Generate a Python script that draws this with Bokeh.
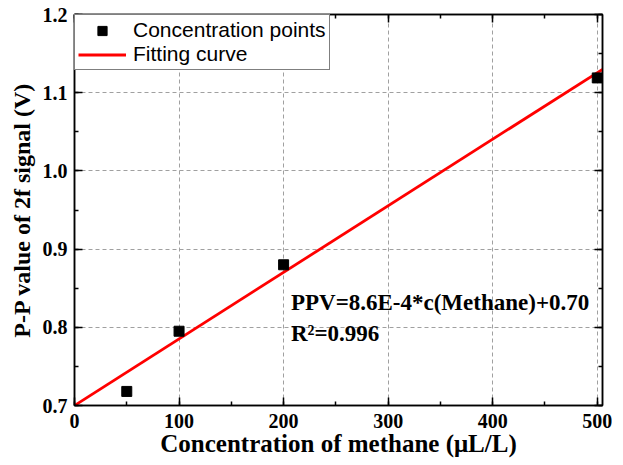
from bokeh.plotting import figure
from bokeh.models import (ColumnDataSource, LinearAxis, SingleIntervalTicker, NumeralTickFormatter,
                          Legend, LegendItem, Label, Range1d, CustomJSTickFormatter)
from bokeh.embed import file_html
from bokeh.resources import INLINE

# data
conc = [50, 100, 200, 500]
ppv = [0.718, 0.795, 0.880, 1.119]
fit_x = [0, 505]
fit_y = [0.700, 1.130]
eq_text = "PPV=8.6E-4*c(Methane)+0.70"
r2_text = "R\u00b2=0.996"
x_label = "Concentration of methane (\u03bcL/L)"
y_label = "P-P value of 2f signal (V)"
legend_labels = ["Concentration points", "Fitting curve"]

SERIF = "Liberation Serif"
SANS = "Liberation Sans"

p = figure(width=612, height=460, output_backend="svg", toolbar_location=None,
           x_range=Range1d(0, 505), y_range=Range1d(0.7, 1.2001),
           frame_width=528, frame_height=391,
           min_border_left=74, min_border_right=10, min_border_top=14, min_border_bottom=55,
           x_axis_location=None, y_axis_location=None)
p.outline_line_color = "black"
p.outline_line_width = 1.5
p.background_fill_color = "white"
p.border_fill_color = "white"

xt = SingleIntervalTicker(interval=100, num_minor_ticks=2)
yt = SingleIntervalTicker(interval=0.1, num_minor_ticks=2)


def style(ax, labels=True):
    ax.axis_line_color = "black"
    ax.axis_line_width = 1.5
    ax.major_tick_in = 8
    ax.major_tick_out = 0
    ax.minor_tick_in = 4
    ax.minor_tick_out = 0
    ax.major_tick_line_width = 1.5
    ax.minor_tick_line_width = 1.5
    if labels:
        ax.major_label_text_font = SERIF
        ax.major_label_text_font_style = "bold"
        ax.major_label_text_font_size = "20px"
        ax.major_label_text_color = "black"
        ax.axis_label_text_font = SERIF
        ax.axis_label_text_font_style = "bold"
        ax.axis_label_text_font_size = "24px"
        ax.axis_label_text_color = "black"
    else:
        ax.formatter = CustomJSTickFormatter(code="return '';")
        ax.major_label_standoff = 0
        ax.axis_label = None


xb = LinearAxis(ticker=xt, axis_label=x_label)
style(xb)
xb.major_label_standoff = 8
xb.axis_label_standoff = -1
xb.axis_label_text_font_size = "25px"
p.add_layout(xb, "below")

yl = LinearAxis(ticker=yt, axis_label=y_label, formatter=NumeralTickFormatter(format="0.0"))
style(yl)
yl.major_label_standoff = 7
yl.axis_label_standoff = 5
p.add_layout(yl, "left")

xa = LinearAxis(ticker=xt)
style(xa, labels=False)
p.add_layout(xa, "above")

yr = LinearAxis(ticker=yt)
style(yr, labels=False)
p.add_layout(yr, "right")

p.xgrid.ticker = xt
p.ygrid.ticker = yt
for g in (p.xgrid, p.ygrid):
    g.grid_line_color = "#a0a0a0"
    g.grid_line_dash = "4 3"
    g.grid_line_width = 1

src = ColumnDataSource(dict(x=conc, y=ppv))
fit = ColumnDataSource(dict(x=fit_x, y=fit_y))
ln = p.line("x", "y", source=fit, line_color="#ff0000", line_width=2.8)
sc = p.scatter("x", "y", source=src, marker="square", size=10, color="black")

legend = Legend(items=[LegendItem(label=legend_labels[0], renderers=[sc]),
                       LegendItem(label=legend_labels[1], renderers=[ln])],
                location="top_left", margin=0, padding=3, spacing=0,
                glyph_width=48, glyph_height=23, label_height=23, label_standoff=7,
                border_line_color="black", border_line_width=1.2,
                background_fill_color="white", background_fill_alpha=1,
                label_text_font=SANS, label_text_font_size="21px", label_text_color="black")
p.add_layout(legend)

for txt, yv in ((eq_text, 0.832), (r2_text, 0.792)):
    p.add_layout(Label(x=207, y=yv, text=txt, text_font=SERIF, text_font_style="bold",
                       text_font_size="23px", text_color="black", text_baseline="alphabetic"))

open("out.html", "w").write(file_html(p, INLINE))
